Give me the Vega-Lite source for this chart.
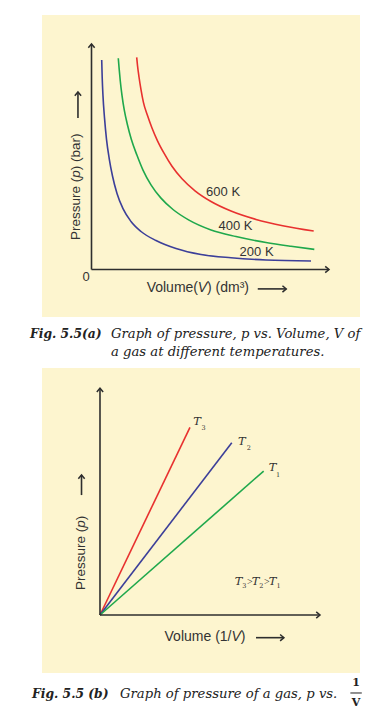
{
  "$schema": "https://vega.github.io/schema/vega-lite/v6.json",
  "padding": {"left": 29, "top": 15, "right": 0, "bottom": 0},
  "bounds": "flush",
  "spacing": 51,
  "config": {"view": {"fill": "#fdf5cf", "stroke": null}},
  "resolve": {"scale": {"color": "independent", "shape": "independent"}},
  "datasets": {
    "curvesA": [
      {"series": "200 K", "x": 0.43, "y": 9.29}, {"series": "200 K", "x": 0.451, "y": 8.506}, {"series": "200 K", "x": 0.484, "y": 7.698},
      {"series": "200 K", "x": 0.547, "y": 6.736}, {"series": "200 K", "x": 0.632, "y": 5.774}, {"series": "200 K", "x": 0.749, "y": 4.9},
      {"series": "200 K", "x": 0.884, "y": 4.146}, {"series": "200 K", "x": 1.074, "y": 3.37}, {"series": "200 K", "x": 1.326, "y": 2.696},
      {"series": "200 K", "x": 1.663, "y": 2.129}, {"series": "200 K", "x": 2.084, "y": 1.685}, {"series": "200 K", "x": 2.716, "y": 1.286},
      {"series": "200 K", "x": 3.558, "y": 0.931}, {"series": "200 K", "x": 4.611, "y": 0.665}, {"series": "200 K", "x": 5.874, "y": 0.519},
      {"series": "200 K", "x": 7.347, "y": 0.421}, {"series": "200 K", "x": 9.242, "y": 0.377},
      {"series": "400 K", "x": 1.128, "y": 9.37}, {"series": "400 K", "x": 1.166, "y": 8.887}, {"series": "400 K", "x": 1.213, "y": 8.35},
      {"series": "400 K", "x": 1.284, "y": 7.725}, {"series": "400 K", "x": 1.381, "y": 7.064}, {"series": "400 K", "x": 1.516, "y": 6.408},
      {"series": "400 K", "x": 1.676, "y": 5.774}, {"series": "400 K", "x": 1.916, "y": 5.064}, {"series": "400 K", "x": 2.168, "y": 4.408},
      {"series": "400 K", "x": 2.505, "y": 3.756}, {"series": "400 K", "x": 2.926, "y": 3.166}, {"series": "400 K", "x": 3.432, "y": 2.661},
      {"series": "400 K", "x": 4.105, "y": 2.191}, {"series": "400 K", "x": 5.032, "y": 1.756}, {"series": "400 K", "x": 6.084, "y": 1.463},
      {"series": "400 K", "x": 7.347, "y": 1.197}, {"series": "400 K", "x": 8.4, "y": 1.029}, {"series": "400 K", "x": 9.381, "y": 0.891},
      {"series": "600 K", "x": 1.903, "y": 9.41}, {"series": "600 K", "x": 1.937, "y": 9.047}, {"series": "600 K", "x": 2.0, "y": 8.537},
      {"series": "600 K", "x": 2.084, "y": 7.978}, {"series": "600 K", "x": 2.189, "y": 7.397}, {"series": "600 K", "x": 2.358, "y": 6.825},
      {"series": "600 K", "x": 2.547, "y": 6.275}, {"series": "600 K", "x": 2.779, "y": 5.707}, {"series": "600 K", "x": 3.053, "y": 5.157},
      {"series": "600 K", "x": 3.389, "y": 4.576}, {"series": "600 K", "x": 3.811, "y": 4.022}, {"series": "600 K", "x": 4.358, "y": 3.49},
      {"series": "600 K", "x": 5.032, "y": 3.016}, {"series": "600 K", "x": 5.874, "y": 2.594}, {"series": "600 K", "x": 6.926, "y": 2.222},
      {"series": "600 K", "x": 8.105, "y": 1.933}, {"series": "600 K", "x": 9.356, "y": 1.707}
    ],
    "axesA": [
      {"x": 0, "y": 0, "x2": 0, "y2": 10.0},
      {"x": 0, "y": 0, "x2": 10.0, "y2": 0},
      {"x": 7.0, "y": -0.86, "x2": 8.2, "y2": -0.86},
      {"x": -0.57, "y": 6.72, "x2": -0.57, "y2": 7.87}
    ],
    "headsA": [
      {"x": 0, "y": 10.0, "dir": "up"},
      {"x": 10.0, "y": 0, "dir": "right"},
      {"x": 8.2, "y": -0.86, "dir": "right"},
      {"x": -0.57, "y": 7.87, "dir": "up"}
    ],
    "labelsA": [
      {"text": "600 K", "x": 5.54, "y": 3.44},
      {"text": "400 K", "x": 6.06, "y": 1.93},
      {"text": "200 K", "x": 6.95, "y": 0.78},
      {"text": "0", "x": -0.23, "y": -0.33}
    ],
    "xTitleLeftA": [{"text": "Volume(", "x": 4.484, "y": -0.82}],
    "xTitleItalA": [{"text": "V", "x": 4.674, "y": -0.82}],
    "xTitleRightA": [{"text": ") (dm³)", "x": 4.863, "y": -0.82}],
    "yTitleLowA": [{"text": "Pressure (", "x": -0.65, "y": 4.069}],
    "yTitleItalA": [{"text": "p", "x": -0.65, "y": 4.235}],
    "yTitleHighA": [{"text": ") (bar)", "x": -0.65, "y": 4.401}],
    "capBoldA": [{"text": "Fig. 5.5(a)", "x": -2.59, "y": -2.86}],
    "capA": [
      {"text": "Graph of pressure, p vs. Volume, V of", "x": 0.82, "y": -2.86},
      {"text": "a gas at different temperatures.", "x": 0.82, "y": -3.66}
    ],
    "linesB": [
      {"series": "T3", "x": 0, "y": 0}, {"series": "T3", "x": 4.09, "y": 8.28},
      {"series": "T2", "x": 0, "y": 0}, {"series": "T2", "x": 5.99, "y": 7.6},
      {"series": "T1", "x": 0, "y": 0}, {"series": "T1", "x": 7.44, "y": 6.35}
    ],
    "axesB": [
      {"x": 0, "y": 0, "x2": 0, "y2": 10.0},
      {"x": 0, "y": 0, "x2": 10.0, "y2": 0},
      {"x": 7.09, "y": -1.0, "x2": 8.36, "y2": -1.0},
      {"x": -0.84, "y": 5.29, "x2": -0.84, "y2": 6.18}
    ],
    "headsB": [
      {"x": 0, "y": 10.0, "dir": "up"},
      {"x": 10.0, "y": 0, "dir": "right"},
      {"x": 8.36, "y": -1.0, "dir": "right"},
      {"x": -0.84, "y": 6.18, "dir": "up"}
    ],
    "xTitleLeftB": [{"text": "Volume (1/", "x": 5.977, "y": -0.95}],
    "xTitleItalB": [{"text": "V", "x": 6.19, "y": -0.95}],
    "xTitleRightB": [{"text": ")", "x": 6.4, "y": -0.95}],
    "yTitleLowB": [{"text": "Pressure (", "x": -0.86, "y": 3.849}],
    "yTitleItalB": [{"text": "p", "x": -0.86, "y": 4.014}],
    "yTitleHighB": [{"text": ")", "x": -0.86, "y": 4.18}],
    "tB": [
      {"text": "T", "x": 4.41, "y": 8.53}, {"text": "T", "x": 6.45, "y": 7.65}, {"text": "T", "x": 7.84, "y": 6.47},
      {"text": "T", "x": 6.295, "y": 1.46}, {"text": "T", "x": 7.068, "y": 1.46}, {"text": "T", "x": 7.841, "y": 1.46}
    ],
    "subB": [
      {"text": "3", "x": 4.71, "y": 8.24}, {"text": "2", "x": 6.76, "y": 7.35}, {"text": "1", "x": 8.09, "y": 6.18},
      {"text": "3", "x": 6.559, "y": 1.27}, {"text": "2", "x": 7.332, "y": 1.27}, {"text": "1", "x": 8.114, "y": 1.27}
    ],
    "gtB": [{"text": ">", "x": 6.805, "y": 1.46}, {"text": ">", "x": 7.577, "y": 1.46}],
    "capBoldB": [{"text": "Fig. 5.5 (b)", "x": -3.09, "y": -3.48}],
    "capB": [{"text": "Graph of pressure of a gas, p vs.", "x": 0.91, "y": -3.48}],
    "fracB": [{"text": "1", "x": 11.64, "y": -2.98}, {"text": "V", "x": 11.64, "y": -3.9}],
    "fracBar": [{"x": 11.38, "y": -3.44, "x2": 11.9, "y2": -3.44}]
  },
  "vconcat": [
    {
      "width": 318,
      "height": 302,
      "encoding": {
        "x": {"field": "x", "type": "quantitative", "scale": {"domain": [-2.084, 11.305], "nice": false, "zero": false}, "axis": null},
        "y": {"field": "y", "type": "quantitative", "scale": {"domain": [-2.106, 11.286], "nice": false, "zero": false}, "axis": null}
      },
      "layer": [
        {
          "data": {"name": "curvesA"},
          "mark": {"type": "line", "strokeWidth": 1.6, "interpolate": "monotone"},
          "encoding": {
            "color": {"field": "series", "type": "nominal", "scale": {"domain": ["200 K", "400 K", "600 K"], "range": ["#3c3f99", "#1fa84c", "#e8312f"]}, "legend": null}
          }
        },
        {
          "data": {"name": "axesA"},
          "mark": {"type": "rule", "color": "#2e2e2e", "strokeWidth": 1.6},
          "encoding": {"x2": {"field": "x2"}, "y2": {"field": "y2"}}
        },
        {
          "data": {"name": "headsA"},
          "mark": {"type": "point", "filled": false, "strokeWidth": 1.5, "color": "#2e2e2e", "size": 40, "opacity": 1},
          "encoding": {"shape": {"field": "dir", "type": "nominal", "scale": {"domain": ["up", "right"], "range": ["M-1,1.2L0,0L1,1.2", "M-1.2,-1L0,0L-1.2,1"]}, "legend": null}}
        },
        {
          "data": {"name": "labelsA"},
          "mark": {"type": "text", "font": "Liberation Sans", "fontSize": 13, "color": "#333333", "align": "center", "baseline": "middle"},
          "encoding": {"text": {"field": "text"}}
        },
        {
          "data": {"name": "xTitleLeftA"},
          "mark": {"type": "text", "font": "Liberation Sans", "fontSize": 14, "color": "#333333", "align": "right", "baseline": "middle"},
          "encoding": {"text": {"field": "text"}}
        },
        {
          "data": {"name": "xTitleItalA"},
          "mark": {"type": "text", "font": "Liberation Sans", "fontSize": 14, "fontStyle": "italic", "color": "#333333", "align": "center", "baseline": "middle"},
          "encoding": {"text": {"field": "text"}}
        },
        {
          "data": {"name": "xTitleRightA"},
          "mark": {"type": "text", "font": "Liberation Sans", "fontSize": 14, "color": "#333333", "align": "left", "baseline": "middle"},
          "encoding": {"text": {"field": "text"}}
        },
        {
          "data": {"name": "yTitleLowA"},
          "mark": {"type": "text", "font": "Liberation Sans", "fontSize": 13.5, "color": "#333333", "align": "right", "baseline": "middle", "angle": 270},
          "encoding": {"text": {"field": "text"}}
        },
        {
          "data": {"name": "yTitleItalA"},
          "mark": {"type": "text", "font": "Liberation Sans", "fontSize": 13.5, "fontStyle": "italic", "color": "#333333", "align": "center", "baseline": "middle", "angle": 270},
          "encoding": {"text": {"field": "text"}}
        },
        {
          "data": {"name": "yTitleHighA"},
          "mark": {"type": "text", "font": "Liberation Sans", "fontSize": 13.5, "color": "#333333", "align": "left", "baseline": "middle", "angle": 270},
          "encoding": {"text": {"field": "text"}}
        },
        {
          "data": {"name": "capBoldA"},
          "mark": {"type": "text", "font": "DejaVu Serif", "fontSize": 12.3, "fontWeight": "bold", "fontStyle": "italic", "color": "#222222", "align": "left", "baseline": "middle"},
          "encoding": {"text": {"field": "text"}}
        },
        {
          "data": {"name": "capA"},
          "mark": {"type": "text", "font": "DejaVu Serif", "fontSize": 13.2, "fontStyle": "italic", "color": "#222222", "align": "left", "baseline": "middle"},
          "encoding": {"text": {"field": "text"}}
        }
      ]
    },
    {
      "width": 318,
      "height": 305,
      "encoding": {
        "x": {"field": "x", "type": "quantitative", "scale": {"domain": [-2.636, 11.818], "nice": false, "zero": false}, "axis": null},
        "y": {"field": "y", "type": "quantitative", "scale": {"domain": [-2.558, 10.895], "nice": false, "zero": false}, "axis": null}
      },
      "layer": [
        {
          "data": {"name": "linesB"},
          "mark": {"type": "line", "strokeWidth": 1.6},
          "encoding": {
            "color": {"field": "series", "type": "nominal", "scale": {"domain": ["T1", "T2", "T3"], "range": ["#1fa84c", "#3c3f99", "#e8312f"]}, "legend": null}
          }
        },
        {
          "data": {"name": "axesB"},
          "mark": {"type": "rule", "color": "#2e2e2e", "strokeWidth": 1.6},
          "encoding": {"x2": {"field": "x2"}, "y2": {"field": "y2"}}
        },
        {
          "data": {"name": "headsB"},
          "mark": {"type": "point", "filled": false, "strokeWidth": 1.5, "color": "#2e2e2e", "size": 40, "opacity": 1},
          "encoding": {"shape": {"field": "dir", "type": "nominal", "scale": {"domain": ["up", "right"], "range": ["M-1,1.2L0,0L1,1.2", "M-1.2,-1L0,0L-1.2,1"]}, "legend": null}}
        },
        {
          "data": {"name": "xTitleLeftB"},
          "mark": {"type": "text", "font": "Liberation Sans", "fontSize": 14, "color": "#333333", "align": "right", "baseline": "middle"},
          "encoding": {"text": {"field": "text"}}
        },
        {
          "data": {"name": "xTitleItalB"},
          "mark": {"type": "text", "font": "Liberation Sans", "fontSize": 14, "fontStyle": "italic", "color": "#333333", "align": "center", "baseline": "middle"},
          "encoding": {"text": {"field": "text"}}
        },
        {
          "data": {"name": "xTitleRightB"},
          "mark": {"type": "text", "font": "Liberation Sans", "fontSize": 14, "color": "#333333", "align": "left", "baseline": "middle"},
          "encoding": {"text": {"field": "text"}}
        },
        {
          "data": {"name": "yTitleLowB"},
          "mark": {"type": "text", "font": "Liberation Sans", "fontSize": 13.5, "color": "#333333", "align": "right", "baseline": "middle", "angle": 270},
          "encoding": {"text": {"field": "text"}}
        },
        {
          "data": {"name": "yTitleItalB"},
          "mark": {"type": "text", "font": "Liberation Sans", "fontSize": 13.5, "fontStyle": "italic", "color": "#333333", "align": "center", "baseline": "middle", "angle": 270},
          "encoding": {"text": {"field": "text"}}
        },
        {
          "data": {"name": "yTitleHighB"},
          "mark": {"type": "text", "font": "Liberation Sans", "fontSize": 13.5, "color": "#333333", "align": "left", "baseline": "middle", "angle": 270},
          "encoding": {"text": {"field": "text"}}
        },
        {
          "data": {"name": "tB"},
          "mark": {"type": "text", "font": "DejaVu Serif", "fontSize": 11.5, "fontStyle": "italic", "color": "#333333", "align": "center", "baseline": "middle"},
          "encoding": {"text": {"field": "text"}}
        },
        {
          "data": {"name": "subB"},
          "mark": {"type": "text", "font": "DejaVu Serif", "fontSize": 6.5, "color": "#333333", "align": "center", "baseline": "middle"},
          "encoding": {"text": {"field": "text"}}
        },
        {
          "data": {"name": "gtB"},
          "mark": {"type": "text", "font": "Liberation Serif", "fontSize": 10, "color": "#333333", "align": "center", "baseline": "middle"},
          "encoding": {"text": {"field": "text"}}
        },
        {
          "data": {"name": "capBoldB"},
          "mark": {"type": "text", "font": "DejaVu Serif", "fontSize": 12.3, "fontWeight": "bold", "fontStyle": "italic", "color": "#222222", "align": "left", "baseline": "middle"},
          "encoding": {"text": {"field": "text"}}
        },
        {
          "data": {"name": "capB"},
          "mark": {"type": "text", "font": "DejaVu Serif", "fontSize": 13.2, "fontStyle": "italic", "color": "#222222", "align": "left", "baseline": "middle"},
          "encoding": {"text": {"field": "text"}}
        },
        {
          "data": {"name": "fracB"},
          "mark": {"type": "text", "font": "DejaVu Serif", "fontSize": 11, "fontWeight": "bold", "color": "#222222", "align": "center", "baseline": "middle"},
          "encoding": {"text": {"field": "text"}}
        },
        {
          "data": {"name": "fracBar"},
          "mark": {"type": "rule", "color": "#222222", "strokeWidth": 1},
          "encoding": {"x2": {"field": "x2"}, "y2": {"field": "y2"}}
        }
      ]
    }
  ]
}
